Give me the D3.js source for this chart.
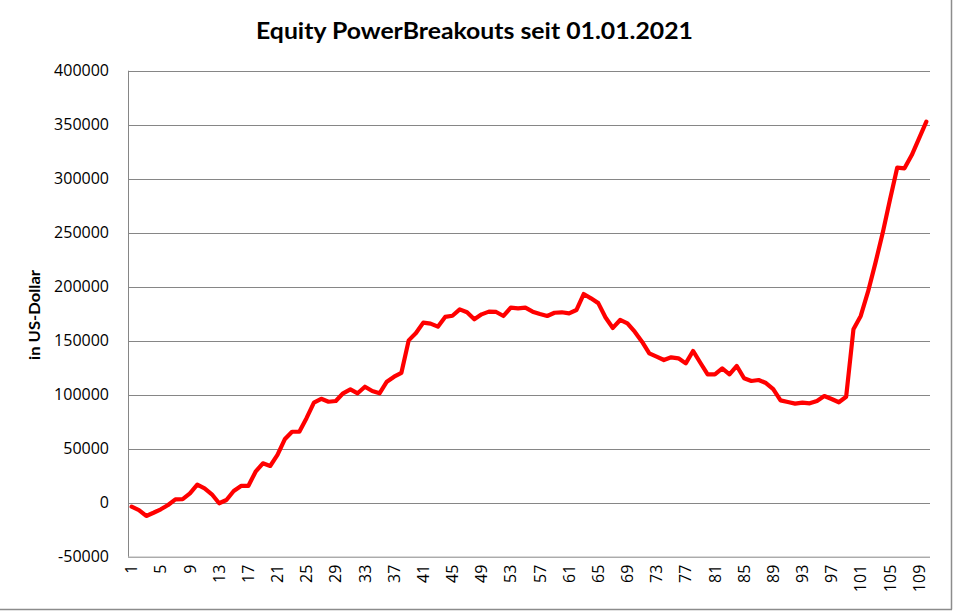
<!DOCTYPE html>
<html>
<head>
<meta charset="utf-8">
<script src="https://cdn.jsdelivr.net/npm/d3@7"></script>
<style>
  html, body { margin: 0; padding: 0; background: #fff; }
  svg { display: block; }
</style>
</head>
<body>
<svg id="chart" width="953" height="612"></svg>
<script>
const title = "Equity PowerBreakouts seit 01.01.2021";
const yAxisTitle = "in US-Dollar";
const categories = d3.range(1, 111);
const equity = [
  -3700, -6800, -12300, -9300, -6100, -2100, 3100, 3400, 8700, 16700,
  13300, 7800, -500, 2500, 10800, 15500, 15500, 28700, 36500, 34000,
  44200, 58700, 65700, 65700, 78500, 92600, 96200, 93500, 94200, 101300,
  105000, 101300, 107400, 103400, 101300, 112000, 116700, 120300, 150300, 157100,
  166700, 165800, 163000, 172000, 173100, 179000, 176300, 169800, 174400, 176900,
  176600, 172900, 180600, 180000, 180600, 176900, 174700, 172900, 175900, 176300,
  175300, 178400, 193200, 189200, 184800, 171500, 161800, 169200, 166100, 158300,
  149100, 138300, 135200, 132100, 134600, 133700, 129000, 140500, 129600, 118900,
  118900, 124400, 118900, 126600, 115200, 112700, 113600, 110800, 105100, 94700,
  93200, 91700, 92600, 92000, 94200, 98800, 96000, 93000, 98100, 160500,
  172900, 195400, 221600, 249400, 280300, 310200, 309600, 321900, 337400, 352800
];
const yTicks = [-50000, 0, 50000, 100000, 150000, 200000, 250000, 300000, 350000, 400000];
const xTickLabels = categories.filter((d, i) => i % 4 === 0);

const svg = d3.select("#chart");
const pLeft = 128, pRight = 930, pTop = 70.7, pBottom = 556.7;

const x = d3.scaleBand().domain(categories).range([pLeft, pRight]).paddingInner(0).paddingOuter(0);
const y = d3.scaleLinear().domain([-50000, 400000]).range([pBottom, pTop]);

const gridColor = "#868686";
const tickFont = "'Open Sans', sans-serif";
const tickSize = 16;

// frame (right & bottom visible)
svg.append("line").attr("x1", 951.5).attr("x2", 951.5).attr("y1", 0).attr("y2", 609.5)
  .attr("stroke", "#8c8c8c").attr("stroke-width", 1.5);
svg.append("line").attr("x1", 0).attr("x2", 952).attr("y1", 609.5).attr("y2", 609.5)
  .attr("stroke", "#8c8c8c").attr("stroke-width", 1.5);

// gridlines
svg.append("g").selectAll("line").data(yTicks.filter(v => v !== -50000)).join("line")
  .attr("x1", pLeft).attr("x2", pRight)
  .attr("y1", d => Math.round(y(d)) + 0.5).attr("y2", d => Math.round(y(d)) + 0.5)
  .attr("stroke", gridColor).attr("stroke-width", 1);

// y axis
const yAxis = d3.axisLeft(y).tickValues(yTicks).tickSize(0).tickPadding(19).tickFormat(d => String(d));
const gy = svg.append("g").attr("transform", `translate(${pLeft},0)`).call(yAxis);
gy.select(".domain").attr("stroke", gridColor).attr("d", `M0.5,${pTop}V${pBottom}`);
gy.selectAll("text").attr("font-family", tickFont).attr("font-size", tickSize).attr("fill", "#000");

// x axis
const xAxis = d3.axisBottom(x).tickValues(xTickLabels).tickSize(0).tickPadding(0);
const gx = svg.append("g").attr("transform", `translate(0,${pBottom})`).call(xAxis);
gx.select(".domain").attr("stroke", gridColor).attr("d", `M${pLeft},0.5H${pRight}`);
gx.selectAll("text")
  .attr("font-family", tickFont).attr("font-size", tickSize).attr("fill", "#000")
  .attr("text-anchor", "end")
  .attr("dy", "0.35em")
  .attr("transform", "translate(0,8) rotate(-90)")
  .attr("x", 0).attr("y", 0);

// line
const line = d3.line()
  .x((d, i) => x(categories[i]) + x.bandwidth() / 2)
  .y(d => y(d));
svg.append("path").datum(equity)
  .attr("d", line)
  .attr("fill", "none")
  .attr("stroke", "#ff0000")
  .attr("stroke-width", 4.2)
  .attr("stroke-linejoin", "round")
  .attr("stroke-linecap", "round");

// title
svg.append("text")
  .attr("x", 474.5).attr("y", 38.5)
  .attr("text-anchor", "middle")
  .attr("font-family", "Lato, 'Open Sans', sans-serif")
  .attr("font-weight", "bold")
  .attr("font-size", 22)
  .attr("textLength", 437)
  .attr("lengthAdjust", "spacingAndGlyphs")
  .text(title);

// y axis title
svg.append("text")
  .attr("transform", "translate(40,315) rotate(-90)")
  .attr("text-anchor", "middle")
  .attr("font-family", "Lato, 'Open Sans', sans-serif")
  .attr("font-weight", "bold")
  .attr("font-size", 15)
  .attr("textLength", 90)
  .attr("lengthAdjust", "spacingAndGlyphs")
  .text(yAxisTitle);
</script>
</body>
</html>
